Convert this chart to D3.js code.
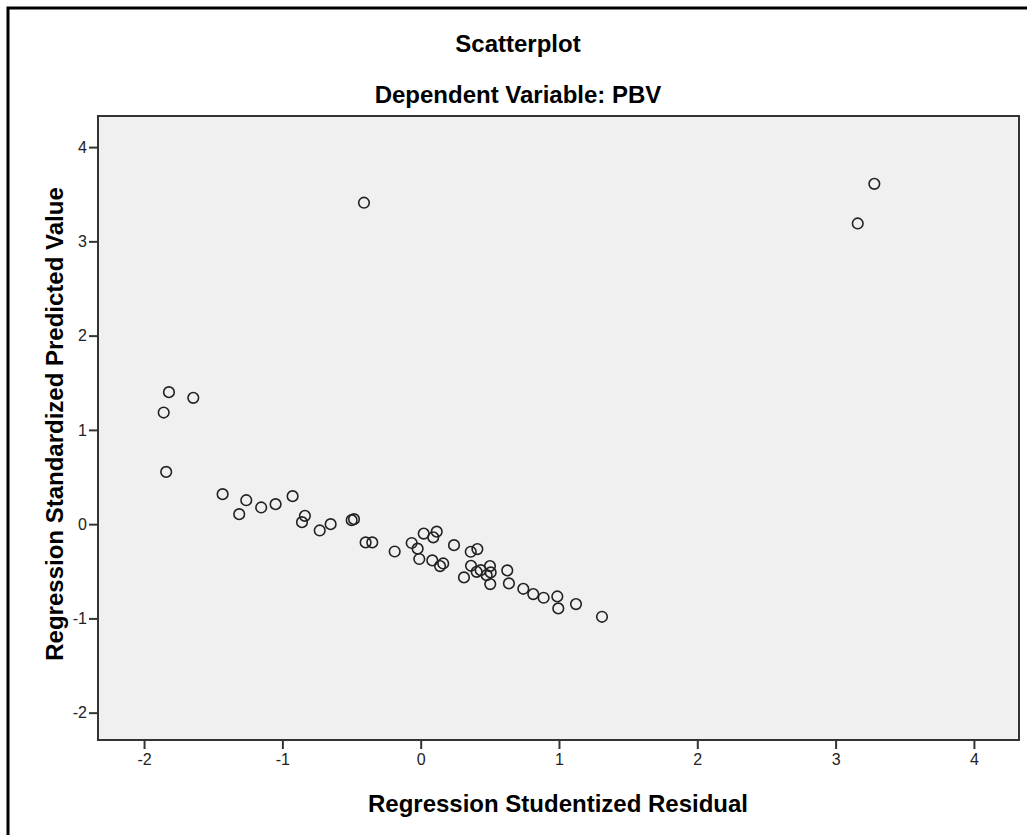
<!DOCTYPE html>
<html>
<head>
<meta charset="utf-8">
<script src="https://cdn.jsdelivr.net/npm/d3@7"></script>
<style>
  body { margin: 0; background: #fff; }
  text { font-family: "Liberation Sans", Arial, sans-serif; fill: #000; }
</style>
</head>
<body>
<div id="container"></div>
<script>
/* DATA */
const residual = [
  -0.41, 3.28, 3.16,
  -1.82, -1.644, -1.858, -1.84,
  -1.432, -1.312, -1.261, -1.153, -1.049, -0.926, -0.837, -0.858, -0.73, -0.651,
  -0.499, -0.482, -0.398, -0.35, -0.188, -0.065, -0.022, -0.01, 0.022, 0.091, 0.084,
  0.116, 0.163, 0.14, 0.241, 0.362, 0.41, 0.313, 0.364, 0.405, 0.434, 0.477, 0.501,
  0.506, 0.503, 0.626, 0.638, 0.742, 0.814, 0.889, 0.988, 0.995, 1.123, 1.311
];
const predicted = [
  3.41, 3.61, 3.19,
  1.40, 1.34, 1.184, 0.554,
  0.318, 0.106, 0.254, 0.177, 0.212, 0.297, 0.088, 0.021, -0.067, 0.0,
  0.042, 0.053, -0.194, -0.194, -0.29, -0.2, -0.26, -0.37, -0.1, -0.14, -0.385,
  -0.08, -0.417, -0.445, -0.223, -0.293, -0.265, -0.565, -0.442, -0.506, -0.488, -0.541, -0.445,
  -0.512, -0.636, -0.491, -0.629, -0.686, -0.742, -0.781, -0.767, -0.894, -0.848, -0.983
];
const xTicks = [-2, -1, 0, 1, 2, 3, 4];
const yTicks = [-2, -1, 0, 1, 2, 3, 4];

const width = 1027, height = 835;
const plot = {left: 98, right: 1019, top: 116, bottom: 740};

const svg = d3.select("#container").append("svg")
  .attr("width", width).attr("height", height);

// outer frame (only top and left are visible)
svg.append("path")
  .attr("d", `M8,${height} L8,8 L${width},8`)
  .attr("fill", "none").attr("stroke", "#000").attr("stroke-width", 3);

const xScale = d3.scaleLinear().domain([-2.333, 4.326]).range([plot.left, plot.right]);
const yScale = d3.scaleLinear().domain([-2.29, 4.33]).range([plot.bottom, plot.top]);

// plot background
svg.append("rect")
  .attr("x", plot.left).attr("y", plot.top)
  .attr("width", plot.right - plot.left).attr("height", plot.bottom - plot.top)
  .attr("fill", "#f0f0f0").attr("stroke", "#333").attr("stroke-width", 2);

// axes
const xAxis = d3.axisBottom(xScale).tickValues(xTicks).tickSize(9).tickPadding(5)
  .tickFormat(d => String(d));
const yAxis = d3.axisLeft(yScale).tickValues(yTicks).tickSize(9).tickPadding(2)
  .tickFormat(d => String(d));

const gx = svg.append("g").attr("transform", `translate(0,${plot.bottom})`).call(xAxis);
const gy = svg.append("g").attr("transform", `translate(${plot.left},0)`).call(yAxis);
[gx, gy].forEach(g => {
  g.attr("font-size", null).attr("font-family", null);
  g.select(".domain").remove();
  g.selectAll(".tick line").attr("stroke", "#333").attr("stroke-width", 2);
  g.selectAll(".tick text")
    .style("font-size", "16px").style("fill", "#222")
    .style("font-family", "'Liberation Sans', Arial, sans-serif");
});

// points
svg.append("g").selectAll("circle")
  .data(residual.map((r, i) => ({x: r, y: predicted[i]})))
  .join("circle")
  .attr("cx", d => xScale(d.x))
  .attr("cy", d => yScale(d.y))
  .attr("r", 5.3)
  .attr("fill", "none")
  .attr("stroke", "#222")
  .attr("stroke-width", 1.6);

// titles
svg.append("text").attr("x", 518).attr("y", 52).attr("text-anchor", "middle")
  .attr("font-size", 24).attr("font-weight", "bold").text("Scatterplot");
svg.append("text").attr("x", 518).attr("y", 103).attr("text-anchor", "middle")
  .attr("font-size", 24).attr("font-weight", "bold").text("Dependent Variable: PBV");

svg.append("text").attr("x", 558).attr("y", 812).attr("text-anchor", "middle")
  .attr("font-size", 24).attr("font-weight", "bold").text("Regression Studentized Residual");
svg.append("text")
  .attr("transform", "translate(63,424) rotate(-90)")
  .attr("text-anchor", "middle")
  .attr("font-size", 24).attr("font-weight", "bold").text("Regression Standardized Predicted Value");
</script>
</body>
</html>
